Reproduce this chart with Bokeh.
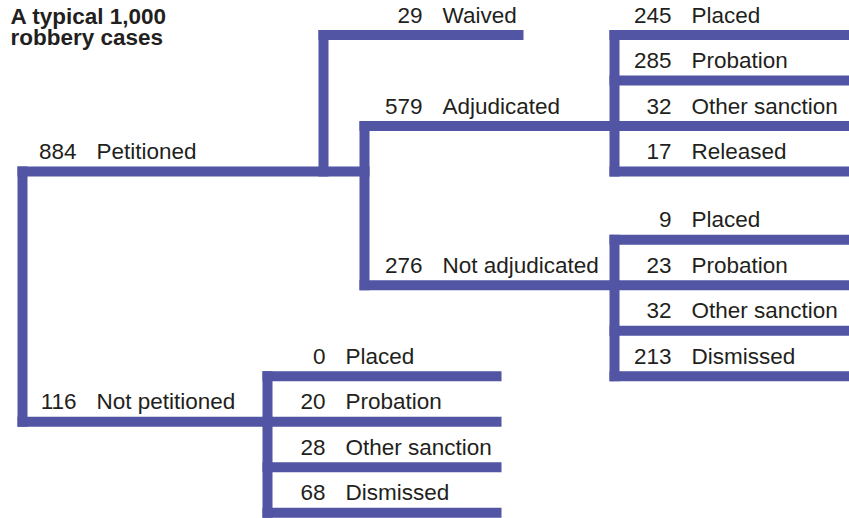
from bokeh.plotting import figure
from bokeh.models import ColumnDataSource, Range1d
from bokeh.core.properties import value
from bokeh.embed import file_html
from bokeh.resources import INLINE

# ---------------- data ----------------
title_lines = ["A typical 1,000", "robbery cases"]

level1_labels = ["Petitioned", "Not petitioned"]
level1_values = [884, 116]

petitioned_labels = ["Waived", "Adjudicated", "Not adjudicated"]
petitioned_values = [29, 579, 276]

adjudicated_labels = ["Placed", "Probation", "Other sanction", "Released"]
adjudicated_values = [245, 285, 32, 17]

not_adjudicated_labels = ["Placed", "Probation", "Other sanction", "Dismissed"]
not_adjudicated_values = [9, 23, 32, 213]

not_petitioned_labels = ["Placed", "Probation", "Other sanction", "Dismissed"]
not_petitioned_values = [0, 20, 28, 68]

# ---------------- layout ----------------
W, H = 849, 518
Y0, DY = 34.5, 45.5          # row grid
HW = 5                       # half of bar thickness
COLOR = "#5155a4"
TEXT_COLOR = "#231f20"
FONT = "Liberation Sans"
FS = "22.5px"
TEXT_OFF = 20                # text baseline above bar centre

def ry(r):
    return Y0 + DY * r

X_ROOT, X_WAIVE, X_SPLIT, X_KIDS, X_NP = 22, 323, 364, 614, 267
X_RIGHT, X_NP_END, X_WAIVE_END = 870, 501, 523
NUM_L1, NUM_L2, NUM_KIDS, NUM_NP = 76, 422, 671, 325

# tree rows
petitioned_rows = [0, 2, 5.5]
adj_rows = [0, 1, 2, 3]
nadj_rows = [4.5, 5.5, 6.5, 7.5]
np_rows = [7.5, 8.5, 9.5, 10.5]
level1_rows = [3, 8.5]

hsegs = []  # (x0, x1, row)
hsegs.append((X_ROOT - HW, X_SPLIT + HW, level1_rows[0]))
hsegs.append((X_ROOT - HW, X_NP + HW, level1_rows[1]))
hsegs.append((X_WAIVE - HW, X_WAIVE_END, petitioned_rows[0]))
hsegs.append((X_SPLIT - HW, X_KIDS, petitioned_rows[1]))
hsegs.append((X_SPLIT - HW, X_KIDS, petitioned_rows[2]))
for r in adj_rows + nadj_rows:
    hsegs.append((X_KIDS - HW, X_RIGHT, r))
for r in np_rows:
    hsegs.append((X_NP - HW, X_NP_END, r))

vsegs = []  # (x, row_top, row_bottom)
vsegs.append((X_ROOT, level1_rows[0], level1_rows[1]))
vsegs.append((X_WAIVE, petitioned_rows[0], level1_rows[0]))
vsegs.append((X_SPLIT, petitioned_rows[1], petitioned_rows[2]))
vsegs.append((X_KIDS, adj_rows[0], adj_rows[-1]))
vsegs.append((X_KIDS, nadj_rows[0], nadj_rows[-1]))
vsegs.append((X_NP, np_rows[0], np_rows[-1]))

left, right, top, bottom = [], [], [], []
for x0, x1, r in hsegs:
    left.append(x0); right.append(x1)
    top.append(ry(r) - HW); bottom.append(ry(r) + HW)
for x, r0, r1 in vsegs:
    left.append(x - HW); right.append(x + HW)
    top.append(ry(r0) - HW); bottom.append(ry(r1) + HW)

bars = ColumnDataSource(dict(left=left, right=right, top=top, bottom=bottom))

nx, ny, nt, lx, ly, lt = [], [], [], [], [], []
def add_labels(vals, labs, rows, numx):
    for v, l, r in zip(vals, labs, rows):
        nx.append(numx); ny.append(ry(r) - TEXT_OFF); nt.append(str(v))
        lx.append(numx + 20); ly.append(ry(r) - TEXT_OFF); lt.append(l)

add_labels(level1_values, level1_labels, level1_rows, NUM_L1)
add_labels(petitioned_values, petitioned_labels, petitioned_rows, NUM_L2)
add_labels(adjudicated_values, adjudicated_labels, adj_rows, NUM_KIDS)
add_labels(not_adjudicated_values, not_adjudicated_labels, nadj_rows, NUM_KIDS)
add_labels(not_petitioned_values, not_petitioned_labels, np_rows, NUM_NP)

nums = ColumnDataSource(dict(x=nx, y=ny, text=nt))
labs = ColumnDataSource(dict(x=lx, y=ly, text=lt))

p = figure(width=W, height=H, output_backend="svg", toolbar_location=None,
           x_range=Range1d(0, W), y_range=Range1d(H, 0),
           x_axis_type=None, y_axis_type=None, min_border=0)
p.outline_line_color = None
p.background_fill_color = "white"
p.border_fill_color = "white"

p.quad(left="left", right="right", top="top", bottom="bottom", source=bars,
       fill_color=COLOR, line_color=None)

p.text(x="x", y="y", text="text", source=nums, text_align="right",
       text_baseline="alphabetic", text_font=value(FONT), text_font_size=FS,
       text_color=TEXT_COLOR)
p.text(x="x", y="y", text="text", source=labs, text_align="left",
       text_baseline="alphabetic", text_font=value(FONT), text_font_size=FS,
       text_color=TEXT_COLOR)

p.text(x=[10, 10], y=[16, 37], text=title_lines, text_align="left",
       text_baseline="alphabetic", text_font=value(FONT), text_font_size="22.5px",
       text_font_style="bold", text_color=TEXT_COLOR)

open("out.html", "w").write(file_html(p, INLINE))
